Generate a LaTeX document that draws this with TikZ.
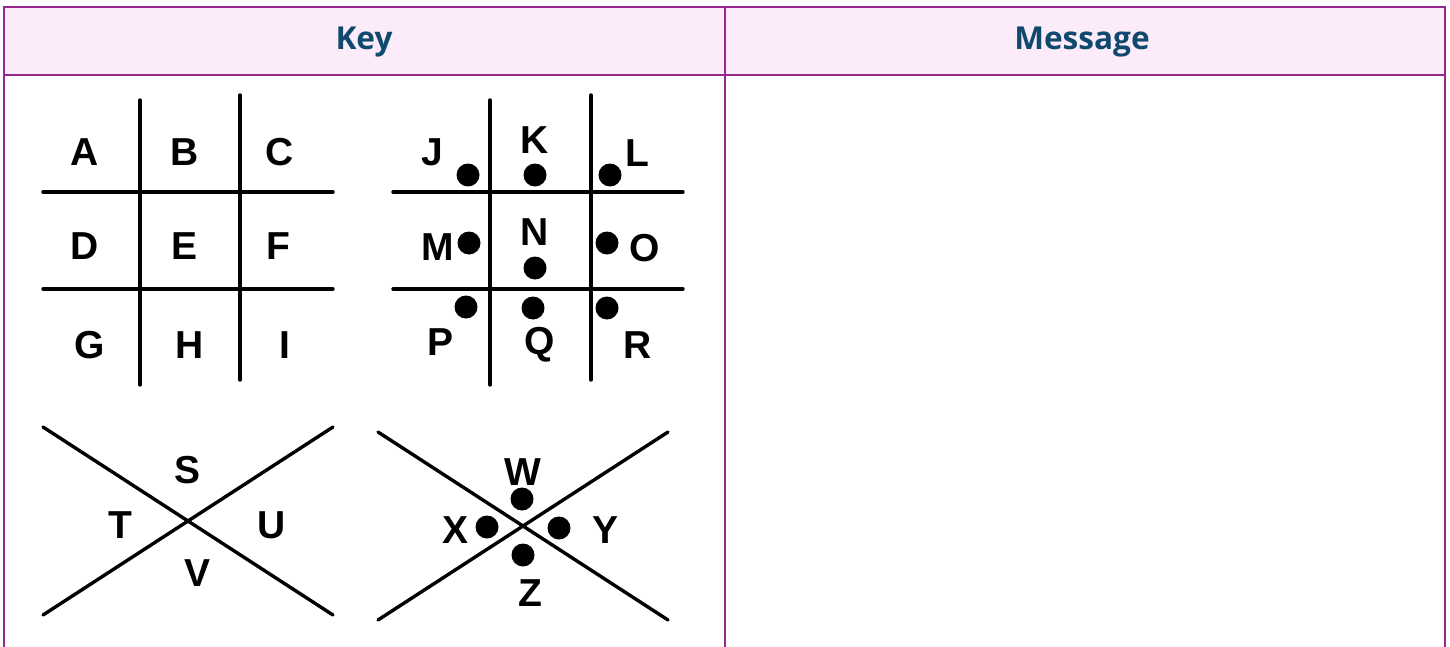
\documentclass[tikz,border=0pt]{standalone}
\usepackage{fontspec}
\setmainfont{Liberation Sans}
\newfontfamily\hdrfont{Open Sans}
\definecolor{bordpurple}{RGB}{148,40,140}
\definecolor{hdrfill}{RGB}{252,236,250}
\definecolor{hdrtext}{RGB}{16,73,110}
\begin{document}
\begin{tikzpicture}[x=0.5pt,y=-0.5pt,
  tblline/.style={draw=bordpurple,line width=1.4pt},
  hdr/.style={font=\hdrfont\bfseries\fontsize{15.8}{19}\selectfont,text=hdrtext,inner sep=0pt},
  ltr/.style={font=\bfseries\fontsize{19.5}{22}\selectfont,inner sep=0pt},
  dot/.style={circle,fill=black,minimum size=11.5pt,inner sep=0pt},
  gline/.style={line width=1.7pt,line cap=round}]
\useasboundingbox (0,0) rectangle (1450,647);
\fill[white] (0,0) rectangle (1450,647);
% table
\fill[hdrfill] (4,7) rectangle (1445,75);
\draw[tblline] (4,650) -- (4,7) -- (1445,7) -- (1445,650);
\draw[tblline] (4,75) -- (1445,75);
\draw[tblline] (725,7) -- (725,650);
\node[hdr] (key) at (364,42) {Key};
\node[hdr] (msg) at (1082,42) {Message};
% grid 1
\draw[gline] (140,100) -- (140,385);
\draw[gline] (240,95) -- (240,380);
\draw[gline] (43,192) -- (333,192);
\draw[gline] (43,289) -- (333,289);
\node[ltr] (A) at (85,152) {A};
\node[ltr] (B) at (185,152) {B};
\node[ltr] (C) at (280,152) {C};
\node[ltr] (D) at (85,246) {D};
\node[ltr] (E) at (185,246) {E};
\node[ltr] (F) at (278,246) {F};
\node[ltr] (G) at (90,345) {G};
\node[ltr] (H) at (190,345) {H};
\node[ltr] (I) at (285,345) {I};
% grid 2
\draw[gline] (490,100) -- (490,385);
\draw[gline] (591,95) -- (591,380);
\draw[gline] (393,192) -- (683,192);
\draw[gline] (393,289) -- (683,289);
\node[ltr] (J) at (432,152) {J};
\node[ltr] (K) at (535,140) {K};
\node[ltr] (L) at (637,153) {L};
\node[dot] (dJ) at (468,175) {};
\node[dot] (dK) at (535,175) {};
\node[dot] (dL) at (610,175) {};
\node[ltr] (M) at (438,247) {M};
\node[dot] (dM) at (469,243) {};
\node[ltr] (N) at (535,232) {N};
\node[dot] (dN) at (535,268) {};
\node[dot] (dO) at (607,243) {};
\node[ltr] (O) at (645,248) {O};
\node[dot] (dP) at (466,307) {};
\node[dot] (dQ) at (533,308) {};
\node[dot] (dR) at (607,308) {};
\node[ltr] (P) at (440,342) {P};
\node[ltr] (Q) at (540,345) {Q};
\node[ltr] (R) at (638,345) {R};
% grid 3
\draw[gline] (43,427) -- (333,615);
\draw[gline] (43,615) -- (333,427);
\node[ltr] (S) at (188,470) {S};
\node[ltr] (T) at (120,525) {T};
\node[ltr] (U) at (272,525) {U};
\node[ltr] (V) at (198,573) {V};
% grid 4
\draw[gline] (378,432) -- (668,620);
\draw[gline] (378,620) -- (668,432);
\node[ltr] (W) at (523,472) {W};
\node[dot] (dW) at (522,499) {};
\node[ltr] (X) at (456,530) {X};
\node[dot] (dX) at (487,527) {};
\node[dot] (dY) at (559,528) {};
\node[ltr] (Y) at (605,530) {Y};
\node[dot] (dZ) at (523,555) {};
\node[ltr] (Z) at (530,593) {Z};
\end{tikzpicture}
\end{document}
